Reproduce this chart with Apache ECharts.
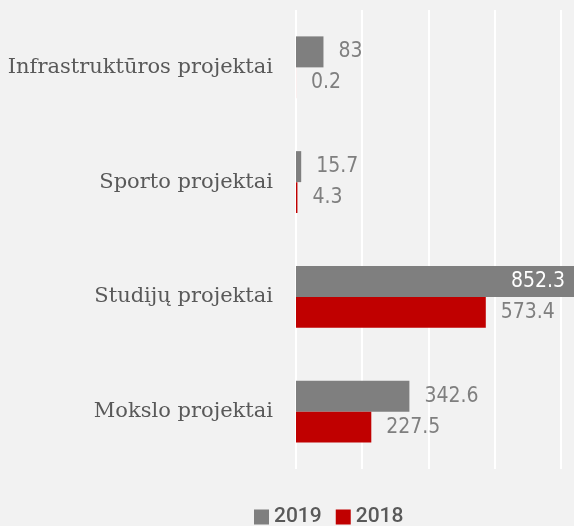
<!DOCTYPE html>
<html>
<head>
<meta charset="utf-8">
<style>
  html, body { margin: 0; padding: 0; background: #f2f2f2; overflow: hidden; }
  /* the value axis runs on past the right edge of the window */
  #chart { width: 627px; height: 526px; }
</style>
<script src="https://cdn.jsdelivr.net/npm/echarts@6/dist/echarts.min.js"></script>
</head>
<body>
<div id="chart"></div>
<script>
// Project categories, bottom to top along the axis
const categories = ['Mokslo projektai', 'Studijų projektai', 'Sporto projektai', 'Infrastruktūros projektai'];
const values2019 = [342.6, 852.3, 15.7, 83];
const values2018 = [227.5, 573.4, 4.3, 0.2];
const legendOrder = ['2019', '2018'];

const GREY = '#7f7f7f';
const RED = '#c00000';
const numFont = '"DejaVu Sans Condensed", "Roboto", sans-serif';

const chart = echarts.init(document.getElementById('chart'), null, { renderer: 'canvas' });

const valueLabel = {
  show: true,
  position: 'right',
  distance: 15,
  color: GREY,
  fontFamily: numFont,
  fontSize: 21,
  formatter: p => String(p.value)
};

chart.setOption({
  backgroundColor: '#f2f2f2',
  animation: false,
  grid: { left: 296, right: 0, top: 10, bottom: 57, containLabel: false },
  xAxis: {
    type: 'value',
    min: 0,
    max: 1000,
    interval: 200,
    axisLabel: { show: false },
    axisLine: { show: false },
    axisTick: { show: false },
    splitLine: { show: true, lineStyle: { color: '#ffffff', width: 2 } }
  },
  yAxis: {
    type: 'category',
    data: categories,
    axisLine: { show: false },
    axisTick: { show: false },
    axisLabel: {
      margin: 23,
      color: '#595959',
      fontFamily: '"DejaVu Serif", serif',
      fontSize: 21
    }
  },
  legend: {
    data: legendOrder,
    left: 254,
    top: 506,
    padding: 0,
    icon: 'rect',
    itemWidth: 15,
    itemHeight: 15,
    itemGap: 14,
    textStyle: {
      color: '#595959',
      fontFamily: 'Roboto, sans-serif',
      fontSize: 21,
      fontWeight: 500,
      lineHeight: 22,
      padding: [0, 0, 0, 0]
    }
  },
  series: [
    {
      name: '2019',
      type: 'bar',
      data: values2019.map(v => v > 700
        ? { value: v, label: { position: 'insideRight', distance: 13, color: '#ffffff' } }
        : v),
      itemStyle: { color: GREY },
      barGap: '0%',
      barCategoryGap: '46%',
      label: valueLabel
    },
    {
      name: '2018',
      type: 'bar',
      data: values2018,
      itemStyle: { color: RED },
      barGap: '0%',
      barCategoryGap: '46%',
      label: valueLabel
    }
  ]
});
</script>
</body>
</html>
